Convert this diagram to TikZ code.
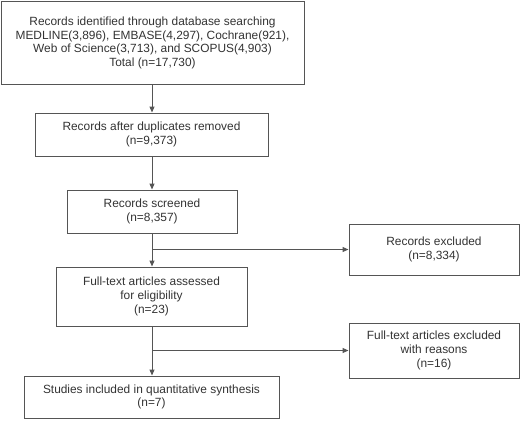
\documentclass[tikz,border=0pt]{standalone}
\usepackage{fontspec}
\setmainfont{Liberation Sans}
\usetikzlibrary{arrows.meta}
\definecolor{linegray}{HTML}{555555}
\definecolor{textgray}{HTML}{333333}
\begin{document}
\begin{tikzpicture}[x=1pt,y=-1pt,
  box/.style={draw=linegray, line width=1pt, align=center, text=textgray,
    font=\fontsize{11.9}{13.7}\selectfont, inner sep=0pt, anchor=center},
  arr/.style={draw=linegray, line width=1pt, -{Triangle[length=6pt,width=5pt]}}]
\useasboundingbox (0,0) rectangle (521,420);
\node[box, minimum width=303pt, minimum height=82pt] (b1) at (152.5,43)
  {Records identified through database searching\\MEDLINE(3,896), EMBASE(4,297), Cochrane(921),\\Web of Science(3,713), and SCOPUS(4,903)\\Total (n=17,730)};
\node[box, minimum width=233pt, minimum height=43pt] (b2) at (151.5,134.5)
  {Records after duplicates removed\\(n=9,373)};
\node[box, minimum width=170pt, minimum height=43pt] (b3) at (152,211.5)
  {Records screened\\(n=8,357)};
\node[box, minimum width=191pt, minimum height=59pt] (b4) at (151.5,296.5)
  {Full-text articles assessed\\for eligibility\\(n=23)};
\node[box, minimum width=255pt, minimum height=42pt] (b5) at (151.5,397)
  {Studies included in quantitative synthesis\\(n=7)};
\node[box, minimum width=170pt, minimum height=51pt] (b6) at (434,249.5)
  {Records excluded\\(n=8,334)};
\node[box, minimum width=170pt, minimum height=55pt] (b7) at (434,350.5)
  {Full-text articles excluded\\with reasons\\(n=16)};
\coordinate (j1) at (152,249.5);
\coordinate (j2) at (152,350.5);
\draw[arr] (b1.south -| j1) -- (b2.north -| j1);
\draw[arr] (b2.south -| j1) -- (b3.north -| j1);
\draw[arr] (b3.south -| j1) -- (b4.north -| j1);
\draw[arr] (j1) -- (b6.west);
\draw[arr] (b4.south -| j2) -- (b5.north -| j2);
\draw[arr] (j2) -- (b7.west);
\end{tikzpicture}
\end{document}
